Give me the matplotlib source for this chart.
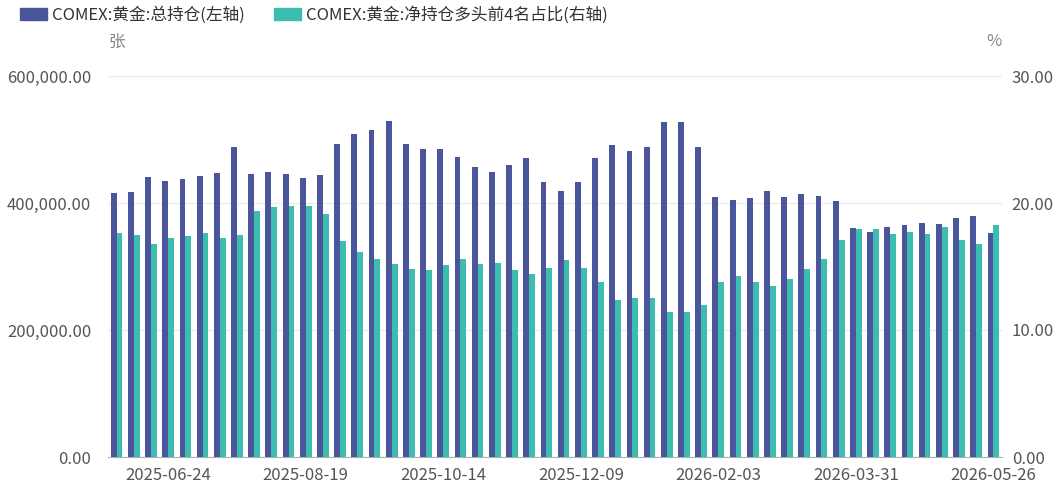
import numpy as np
import pandas as pd
import matplotlib
matplotlib.use('Agg')
import matplotlib.pyplot as plt
from matplotlib.ticker import FuncFormatter
from matplotlib.patches import Patch

plt.rcParams['font.family'] = ['Noto Sans CJK SC', 'DejaVu Sans']

dates = pd.date_range('2025-06-03', periods=52, freq='7D')

# COMEX gold total open interest (contracts)
total_oi = [
    415700, 416700, 441300, 434500, 437600, 442800, 448000, 488800, 444900, 449100,
    445900, 438600, 443900, 492400, 509100, 515400, 528500, 493000, 485100, 485100,
    472100, 456900, 449600, 459500, 471500, 432400, 418300, 432400, 471000, 491400,
    481500, 487700, 527400, 527400, 487700, 409900, 404200, 407300, 419300, 409400,
    413600, 411000, 403700, 360800, 354600, 361900, 365500, 369200, 367600, 376000,
    379100, 353500,
]
# net long share of top 4 traders (%)
top4_share = [
    17.61, 17.51, 16.80, 17.27, 17.40, 17.61, 17.27, 17.51, 19.38, 19.70,
    19.78, 19.78, 19.10, 16.98, 16.18, 15.60, 15.18, 14.79, 14.69, 15.08,
    15.60, 15.21, 15.29, 14.69, 14.38, 14.92, 15.50, 14.92, 13.80, 12.39,
    12.50, 12.50, 11.38, 11.38, 12.00, 13.80, 14.22, 13.80, 13.49, 14.01,
    14.79, 15.60, 17.11, 17.95, 17.95, 17.56, 17.69, 17.56, 18.08, 17.11,
    16.78, 18.29,
]
tick_idx = [3, 11, 19, 27, 35, 43, 51]

blue = '#4a559b'
teal = '#3dbdb0'
txt = '#555555'

fig = plt.figure(figsize=(10.61, 4.88), dpi=100)
ax = fig.add_axes([108 / 1061, 1 - 457 / 488, (1002 - 108) / 1061, (457 - 76) / 488])
ax2 = ax.twinx()

x = np.arange(len(dates))
w = 0.34
ax.bar(x - w / 2, total_oi, width=w, color=blue, zorder=3)
ax2.bar(x + w / 2, top4_share, width=w, color=teal, zorder=3)

ax.set_xlim(-0.5, len(dates) - 0.5)
ax.set_ylim(0, 600000)
ax2.set_ylim(0, 30)
ax.set_yticks([0, 200000, 400000, 600000])
ax2.set_yticks([0, 10, 20, 30])
ax.yaxis.set_major_formatter(FuncFormatter(lambda v, p: f'{v:,.2f}'))
ax2.yaxis.set_major_formatter(FuncFormatter(lambda v, p: f'{v:.2f}'))
ax.grid(axis='y', color='#ebebeb', linewidth=1, zorder=0)

ax.set_xticks(tick_idx)
ax.set_xticklabels([dates[i].strftime('%Y-%m-%d') for i in tick_idx])

for a in (ax, ax2):
    for s in a.spines.values():
        s.set_visible(False)
    a.tick_params(length=0, labelsize=12, colors=txt)
ax.spines['bottom'].set_visible(True)
ax.spines['bottom'].set_color('#b0b0b0')
ax.tick_params(axis='y', pad=12)
ax2.tick_params(axis='y', pad=7)
ax.tick_params(axis='x', pad=7)

fig.text(117 / 1061, 1 - 42 / 488, '张', fontsize=12, color='#888888', ha='center', va='center')
fig.text(994 / 1061, 1 - 42 / 488, '%', fontsize=12, color='#888888', ha='center', va='center')

handles = [Patch(color=blue, label='COMEX:黄金:总持仓(左轴)'),
           Patch(color=teal, label='COMEX:黄金:净持仓多头前4名占比(右轴)')]
fig.legend(handles=handles, loc='center left', bbox_to_anchor=(5 / 1061, 1 - 15 / 488),
           ncol=2, frameon=False, fontsize=12, handlelength=1.6, handleheight=0.7,
           handletextpad=0.3, columnspacing=1.8, labelcolor='#333333')

fig.savefig('out.png', dpi=100)
